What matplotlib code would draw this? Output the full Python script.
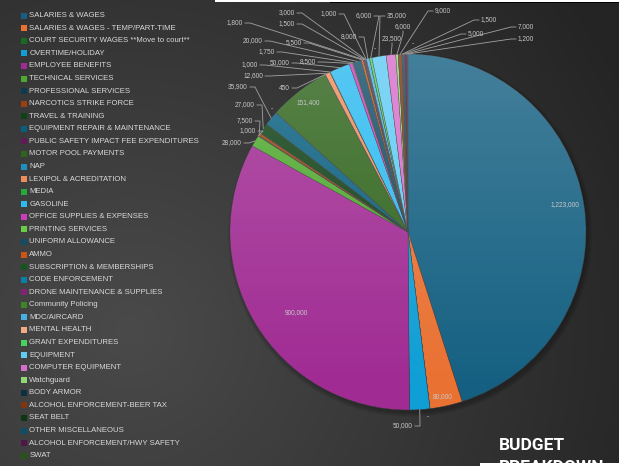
#police department budget breakdown pie
import colorsys
import numpy as np
import matplotlib
matplotlib.use('Agg')
import matplotlib.pyplot as plt
from matplotlib.patches import Rectangle, Circle
from matplotlib.colors import to_rgb

categories = [
    'SALARIES & WAGES', 'SALARIES & WAGES - TEMP/PART-TIME',
    'COURT SECURITY WAGES **Move to court**', 'OVERTIME/HOLIDAY',
    'EMPLOYEE BENEFITS', 'TECHNICAL SERVICES', 'PROFESSIONAL SERVICES',
    'NARCOTICS STRIKE FORCE', 'TRAVEL & TRAINING',
    'EQUIPMENT REPAIR & MAINTENANCE', 'PUBLIC SAFETY IMPACT FEE EXPENDITURES',
    'MOTOR POOL PAYMENTS', 'NAP', 'LEXIPOL & ACREDITATION', 'MEDIA',
    'GASOLINE', 'OFFICE SUPPLIES & EXPENSES', 'PRINTING SERVICES',
    'UNIFORM ALLOWANCE', 'AMMO', 'SUBSCRIPTION & MEMBERSHIPS',
    'CODE ENFORCEMENT', 'DRONE MAINTENANCE & SUPPLIES', 'Community Policing',
    'MDC/AIRCARD', 'MENTAL HEALTH', 'GRANT EXPENDITURES', 'EQUIPMENT',
    'COMPUTER EQUIPMENT', 'Watchguard', 'BODY ARMOR',
    'ALCOHOL ENFORCEMENT-BEER TAX', 'SEAT BELT', 'OTHER MISCELLANEOUS',
    'ALCOHOL ENFORCEMENT/HWY SAFETY', 'SWAT',
]
values = [
    1223000, 80000, 0, 50000, 900000, 28000, 1000, 7500, 27000, 35900,
    0, 151400, 450, 12600, 1000, 50000, 8500, 1750, 20000, 5500,
    1800, 1500, 3000, 1000, 8000, 0, 6000, 35000, 23500, 6000,
    0, 9000, 1500, 5000, 7000, 1200,
]

# where each value label sits (pixels) and which side its leader line leaves from
label_pos = [
    (565, 205, 'in'), (443, 397, 'in'), (428, 417, 'in'), (413, 426, 'r'),
    (296, 313, 'in'), (242, 143, 'r'), (256, 131, 'r'), (253, 121, 'r'),
    (255, 105, 'r'), (248, 87, 'r'), (272, 109, 'in'), (308, 103, 'in'),
    (290, 88, 'r'), (263, 76, 'r'), (258, 65, 'r'), (290, 63, 'r'),
    (316, 62, 'r'), (275, 52, 'r'), (263, 41, 'r'), (302, 43, 'r'),
    (243, 23, 'r'), (295, 24, 'r'), (295, 13, 'r'), (337, 14, 'r'),
    (357, 37, 'r'), (375, 49, 'in'), (372, 16, 'r'), (387, 16, 'l'),
    (392, 39, 'b'), (403, 27, 'b'), (413, 44, 'in'), (435, 11, 'l'),
    (481, 20, 'l'), (468, 34, 'l'), (518, 27, 'l'), (518, 39, 'l'),
]

W, H = 619, 466
cx, cy, R = 408, 232, 178


# office theme colour cycle: six accents, then shaded / tinted rounds
def series_color(i):
    accents = ['#156082', '#E97132', '#196B24', '#0F9ED5', '#A02B93', '#4EA72E']
    mods = [(1.0, 0.0), (0.6, 0.0), (0.8, 0.2), (0.8, 0.0), (0.6, 0.4), (0.5, 0.0)]
    if i < 6:
        return accents[i]
    h, l, s = colorsys.rgb_to_hls(*to_rgb(accents[i % 6]))
    mod, off = mods[(i // 6) % len(mods)]
    return colorsys.hls_to_rgb(h, min(1.0, l * mod + off), s)


colors = [series_color(i) for i in range(len(values))]

fig = plt.figure(figsize=(W / 100, H / 100), dpi=100)
ax = fig.add_axes([0, 0, 1, 1])

#dark radial background
yy, xx = np.mgrid[0:H, 0:W]
d = np.clip(np.hypot(xx - 130, yy - 330) / 560, 0, 1)
c0 = np.array(to_rgb('#4a4a4a'))
c1 = np.array(to_rgb('#242424'))
ax.imshow(c0 + (c1 - c0) * d[..., None], extent=(0, W, H, 0), zorder=0, aspect='auto')

#soft shadow under the pie
for k in range(5):
    ax.add_patch(Circle((cx + 2, cy + 3), R + k, color='black', alpha=0.05, zorder=0.5, lw=0))

wedges, _ = ax.pie(values, colors=colors, startangle=-90, counterclock=True,
                   center=(cx, cy), radius=R, frame=True,
                   wedgeprops=dict(edgecolor='#3a3a3a', linewidth=0.3))

#light sheen over the pie, strongest at the top
grad = np.ones((200, 1, 4))
grad[:, 0, 3] = np.clip(0.2 * (1 - np.linspace(0, 1, 200) / 0.95), 0, None)
sheen = ax.imshow(grad, extent=(cx - R, cx + R, cy + R, cy - R), zorder=3, aspect='auto')
sheen.set_clip_path(Circle((cx, cy), R, transform=ax.transData))

#value labels with leader lines
lab_font = dict(family=['Liberation Sans', 'DejaVu Sans'], size=4.7, color='#c8c8c8')
line_col = '#a2a2a2'
for w, v, (x, y, side) in zip(wedges, values, label_pos):
    txt = '-' if v == 0 else '{:,}'.format(v)
    tm = np.radians((w.theta1 + w.theta2) / 2)
    ex, ey = cx + R * np.cos(tm), cy + R * np.sin(tm)
    if side == 'r':
        ax.text(x, y, txt, ha='right', va='center', zorder=5, **lab_font)
        if v:
            ax.plot([x + 2, x + 7, ex], [y, y, ey], color=line_col, lw=0.6, zorder=4)
    elif side == 'l':
        ax.text(x, y, txt, ha='left', va='center', zorder=5, **lab_font)
        if v:
            ax.plot([x - 2, x - 7, ex], [y, y, ey], color=line_col, lw=0.6, zorder=4)
    elif side == 'b':
        ax.text(x, y, txt, ha='center', va='center', zorder=5, **lab_font)
        ax.plot([x, x, ex], [y + 4, y + 7, ey], color=line_col, lw=0.6, zorder=4)
    else:
        ax.text(x, y, txt, ha='center', va='center', zorder=5, **lab_font)

#legend down the left side
leg_font = dict(family=['Liberation Sans', 'DejaVu Sans'], size=5.6, color='#d9d9d9')
for i, name in enumerate(categories):
    yc = 15.7 + i * 12.57
    ax.add_patch(Rectangle((20.7, yc - 3), 6, 6, color=colors[i], zorder=5, lw=0))
    ax.text(29.3, yc, name, ha='left', va='center', zorder=5, **leg_font)

#title, partly cut off at the bottom
ax.text(499, 450, 'BUDGET', ha='left', va='baseline', color='white',
        family='Roboto', weight='bold', size=12.5, zorder=5)
ax.text(499, 472.5, 'BREAKDOWN', ha='left', va='baseline', color='white',
        family='Roboto', weight='bold', size=12.5, zorder=5)

#screenshot edges
ax.add_patch(Rectangle((215, 0), W - 215, 1.5, color='white', zorder=6, lw=0))
ax.add_patch(Rectangle((330, 1.5), W - 330, 1.2, color='black', zorder=6, lw=0))
ax.add_patch(Rectangle((480, 462.7), W - 480, 4, color='white', zorder=6, lw=0))

ax.set_xlim(0, W)
ax.set_ylim(H, 0)
ax.axis('off')
plt.savefig('out.png', dpi=100)
